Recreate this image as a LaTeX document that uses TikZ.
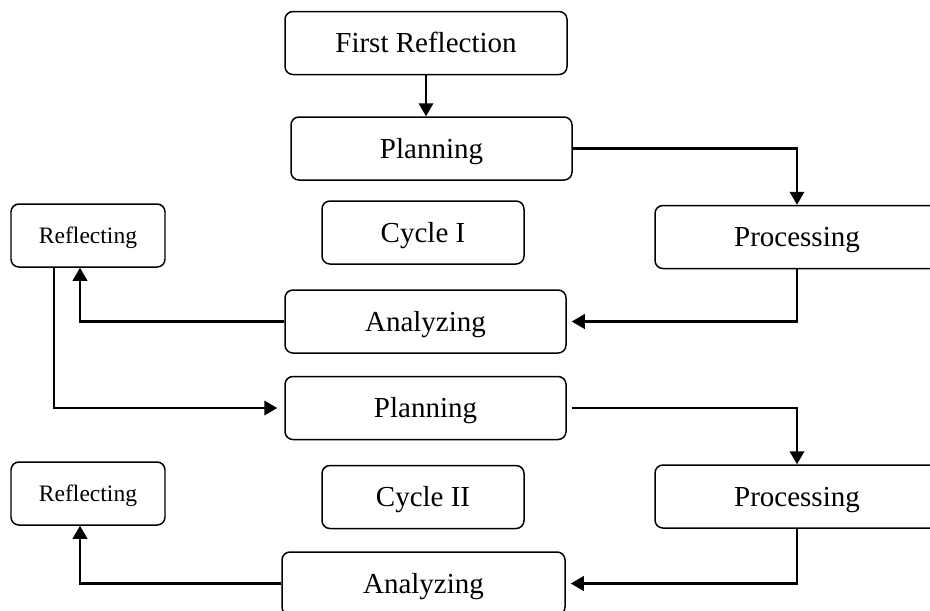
\documentclass[tikz,border=0pt]{standalone}
\usepackage{fontspec}
\setmainfont{Liberation Serif}
\usetikzlibrary{calc}
\usetikzlibrary{arrows.meta}

\begin{document}
\begin{tikzpicture}[
        >={Triangle[length=2.6mm,width=2.9mm]},
        every node/.style={font=\fontsize{16.5}{19}\selectfont},
        stage/.style={
            draw=black,
            line width=0.85pt,
            rounded corners=4.5pt,
            minimum height=1.26cm,
            inner sep=0pt,
            text height=10.9pt,
            text depth=0pt
        },
        note/.style={stage, font=\fontsize{13.4}{16}\selectfont,
            text height=8.8pt, text depth=-2pt},
        link/.style={draw=black, line width=1.2pt, ->}
    ]

    \useasboundingbox (0,0) rectangle (18.6,-12.2);

    % first cycle
    \node[stage, minimum width=5.64cm] (FR) at (8.52,-0.86) {First Reflection};

    \node[stage, minimum width=5.62cm] (PA) at (8.63,-2.97) {Planning};

    \node[note, minimum width=3.08cm] (RA) at (1.76,-4.71) {Reflecting};
    \node[stage, minimum width=4.04cm] (CA) at (8.46,-4.65) {Cycle I};
    \node[stage, minimum width=5.68cm] (SA) at (15.94,-4.74) {Processing};

    \node[stage, minimum width=5.62cm] (AA) at (8.51,-6.43) {Analyzing};

    % second cycle
    \node[stage, minimum width=5.62cm] (PB) at (8.51,-8.16) {Planning};

    \node[note, minimum width=3.08cm] (RB) at (1.76,-9.87) {Reflecting};
    \node[stage, minimum width=4.04cm] (CB) at (8.46,-9.94) {Cycle II};
    \node[stage, minimum width=5.68cm] (SB) at (15.94,-9.93) {Processing};

    \node[stage, minimum width=5.66cm] (AB) at (8.47,-11.67) {Analyzing};

    \coordinate (RAin)  at ($(RA.south)+(-0.16,0)$);
    \coordinate (RAout) at ($(RA.south)+(-0.68,0)$);
    \coordinate (RBin)  at ($(RB.south)+(-0.16,0)$);

    \draw[link] (FR.south) -- (FR.south |- PA.north);
    \draw[link] (PA.east) -| (SA.north);
    \draw[link, shorten >=0.1cm] (SA.south) |- (AA.east);
    \draw[link] (AA.west) -| (RAin);
    \draw[link, shorten >=0.14cm] (RAout) |- (PB.west);

    \draw[link, shorten <=0.1cm] (PB.east) -| (SB.north);
    \draw[link, shorten >=0.1cm] (SB.south) |- (AB.east);
    \draw[link] (AB.west) -| (RBin);

\end{tikzpicture}
\end{document}
